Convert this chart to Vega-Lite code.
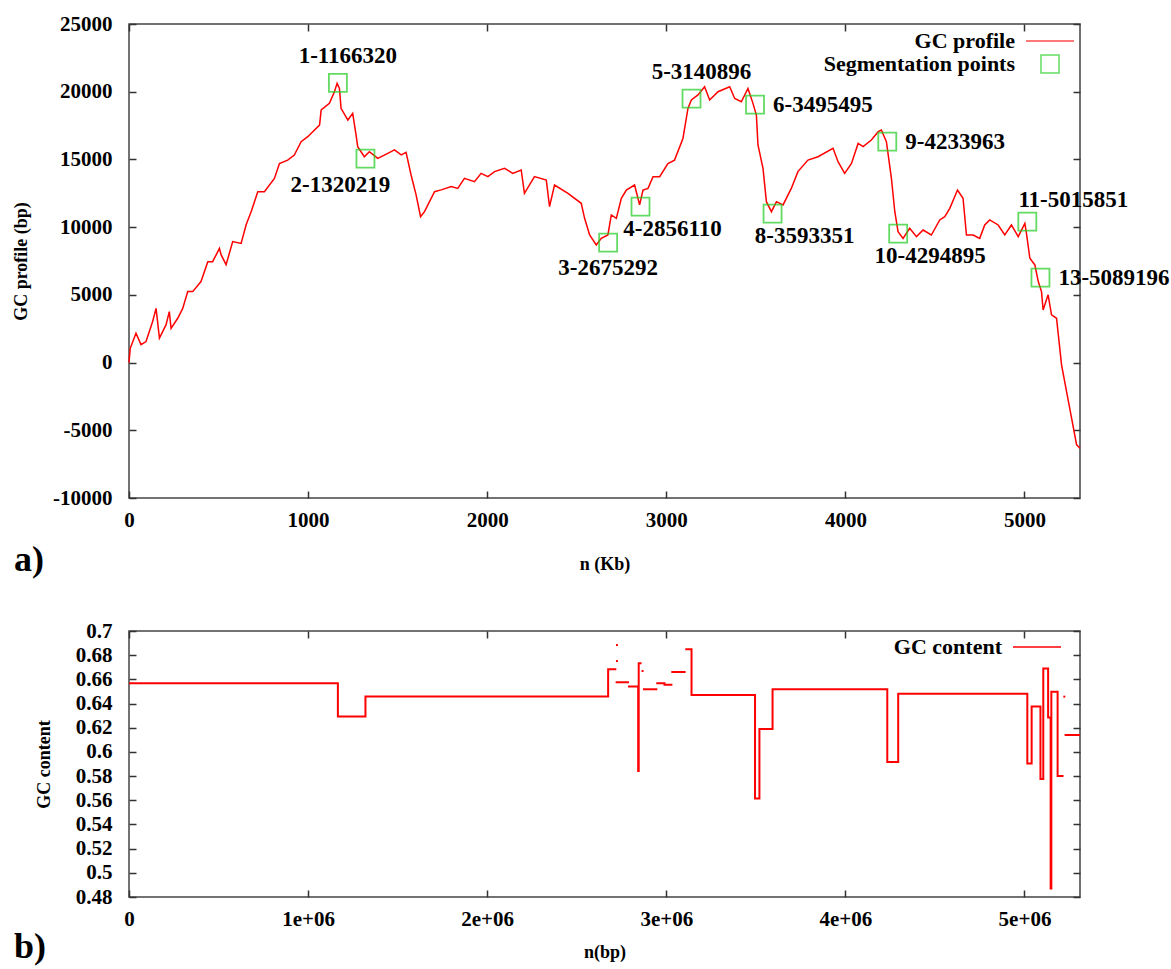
{
  "$schema": "https://vega.github.io/schema/vega-lite/v6.json",
  "background": "white",
  "padding": {"left": 11, "top": 12, "right": 5, "bottom": 5},
  "datasets": {
    "profile": [
      {"kb":0,"gc":0},{"kb":7,"gc":1050},{"kb":39,"gc":2160},{"kb":67,"gc":1330},{"kb":95,"gc":1550},
      {"kb":132,"gc":3030},{"kb":151,"gc":4000},{"kb":170,"gc":1800},{"kb":207,"gc":2800},{"kb":225,"gc":3760},
      {"kb":235,"gc":2530},{"kb":272,"gc":3270},{"kb":300,"gc":4000},{"kb":328,"gc":5240},{"kb":356,"gc":5240},
      {"kb":402,"gc":5980},{"kb":440,"gc":7450},{"kb":467,"gc":7450},{"kb":505,"gc":8430},{"kb":514,"gc":7970},
      {"kb":542,"gc":7230},{"kb":579,"gc":8930},{"kb":626,"gc":8800},{"kb":654,"gc":10180},{"kb":682,"gc":11140},
      {"kb":719,"gc":12620},{"kb":756,"gc":12620},{"kb":812,"gc":13600},{"kb":840,"gc":14700},{"kb":886,"gc":14950},
      {"kb":923,"gc":15320},{"kb":961,"gc":16310},{"kb":998,"gc":16680},{"kb":1026,"gc":17050},{"kb":1064,"gc":17540},
      {"kb":1073,"gc":18650},{"kb":1119,"gc":19140},{"kb":1147,"gc":20000},{"kb":1162,"gc":20620},{"kb":1175,"gc":20240},
      {"kb":1184,"gc":18770},{"kb":1222,"gc":17910},{"kb":1249,"gc":18400},{"kb":1268,"gc":16800},{"kb":1277,"gc":15940},
      {"kb":1314,"gc":15200},{"kb":1342,"gc":15570},{"kb":1389,"gc":15080},{"kb":1445,"gc":15450},{"kb":1482,"gc":15700},
      {"kb":1520,"gc":15330},{"kb":1547,"gc":15520},{"kb":1575,"gc":13850},{"kb":1603,"gc":12380},{"kb":1628,"gc":10770},
      {"kb":1650,"gc":11140},{"kb":1706,"gc":12620},{"kb":1743,"gc":12750},{"kb":1799,"gc":12990},{"kb":1836,"gc":12860},
      {"kb":1873,"gc":13600},{"kb":1929,"gc":13360},{"kb":1966,"gc":13970},{"kb":2004,"gc":13730},{"kb":2041,"gc":14100},
      {"kb":2097,"gc":14340},{"kb":2143,"gc":13970},{"kb":2190,"gc":14220},{"kb":2208,"gc":12500},{"kb":2264,"gc":13730},
      {"kb":2330,"gc":13480},{"kb":2348,"gc":11510},{"kb":2376,"gc":13110},{"kb":2451,"gc":12500},{"kb":2525,"gc":11760},
      {"kb":2544,"gc":10650},{"kb":2572,"gc":9420},{"kb":2609,"gc":8690},{"kb":2637,"gc":9170},{"kb":2674,"gc":9420},
      {"kb":2693,"gc":10900},{"kb":2721,"gc":10650},{"kb":2749,"gc":12130},{"kb":2777,"gc":12740},{"kb":2823,"gc":13110},
      {"kb":2851,"gc":11640},{"kb":2870,"gc":12740},{"kb":2898,"gc":12860},{"kb":2926,"gc":13730},{"kb":2963,"gc":13730},
      {"kb":3009,"gc":14700},{"kb":3046,"gc":14950},{"kb":3093,"gc":16550},{"kb":3121,"gc":18770},{"kb":3140,"gc":19390},
      {"kb":3177,"gc":19760},{"kb":3214,"gc":20370},{"kb":3242,"gc":19390},{"kb":3289,"gc":20000},{"kb":3354,"gc":20370},
      {"kb":3382,"gc":19500},{"kb":3419,"gc":19260},{"kb":3456,"gc":20240},{"kb":3484,"gc":19140},{"kb":3503,"gc":18280},
      {"kb":3512,"gc":16070},{"kb":3540,"gc":14340},{"kb":3559,"gc":11880},{"kb":3587,"gc":11140},{"kb":3615,"gc":11880},
      {"kb":3652,"gc":11640},{"kb":3698,"gc":12860},{"kb":3735,"gc":14100},{"kb":3791,"gc":14950},{"kb":3847,"gc":15200},
      {"kb":3931,"gc":15820},{"kb":3959,"gc":14830},{"kb":3996,"gc":13970},{"kb":4034,"gc":14700},{"kb":4071,"gc":16180},
      {"kb":4099,"gc":15940},{"kb":4145,"gc":16430},{"kb":4183,"gc":17050},{"kb":4201,"gc":17170},{"kb":4229,"gc":16310},
      {"kb":4257,"gc":13600},{"kb":4276,"gc":11140},{"kb":4294,"gc":9670},{"kb":4322,"gc":9170},{"kb":4359,"gc":9910},
      {"kb":4397,"gc":9300},{"kb":4434,"gc":9790},{"kb":4480,"gc":9420},{"kb":4527,"gc":10530},{"kb":4555,"gc":10770},
      {"kb":4583,"gc":11390},{"kb":4626,"gc":12740},{"kb":4657,"gc":12130},{"kb":4676,"gc":9420},{"kb":4713,"gc":9420},
      {"kb":4750,"gc":9170},{"kb":4778,"gc":10160},{"kb":4806,"gc":10530},{"kb":4853,"gc":10160},{"kb":4890,"gc":9420},
      {"kb":4927,"gc":10160},{"kb":4965,"gc":9300},{"kb":5002,"gc":10280},{"kb":5011,"gc":9540},{"kb":5030,"gc":7700},
      {"kb":5058,"gc":7210},{"kb":5077,"gc":5980},{"kb":5095,"gc":5240},{"kb":5104,"gc":3890},{"kb":5132,"gc":5000},
      {"kb":5151,"gc":3520},{"kb":5179,"gc":3270},{"kb":5207,"gc":-170},{"kb":5235,"gc":-2140},{"kb":5263,"gc":-4110},
      {"kb":5291,"gc":-6070},{"kb":5310,"gc":-6320}
    ],
    "seg": [
      {"kb":1166.32,"gc":20660,"label":"1-1166320","place":"above"},
      {"kb":1320.219,"gc":15055,"label":"2-1320219","place":"belowleft"},
      {"kb":2675.292,"gc":8856,"label":"3-2675292","place":"below"},
      {"kb":2856.11,"gc":11513,"label":"4-2856110","place":"belowright"},
      {"kb":3140.896,"gc":19483,"label":"5-3140896","place":"above"},
      {"kb":3495.495,"gc":19040,"label":"6-3495495","place":"right"},
      {"kb":3593.351,"gc":10996,"label":"8-3593351","place":"belowright"},
      {"kb":4233.963,"gc":16310,"label":"9-4233963","place":"right"},
      {"kb":4294.895,"gc":9520,"label":"10-4294895","place":"belowright"},
      {"kb":5015.851,"gc":10406,"label":"11-5015851","place":"aboveright"},
      {"kb":5089.196,"gc":6273,"label":"13-5089196","place":"right"}
    ],
    "gccontent": [
      {"piece":"A","bp":0,"gc":0.6567},{"piece":"A","bp":1166320,"gc":0.6293},{"piece":"A","bp":1320219,"gc":0.6458},
      {"piece":"A","bp":2675292,"gc":0.6683},{"piece":"A","bp":2721000,"gc":0.6683},
      {"piece":"d1","bp":2719000,"gc":0.6884},{"piece":"d1","bp":2730000,"gc":0.6884},
      {"piece":"d2","bp":2719000,"gc":0.6752},{"piece":"d2","bp":2730000,"gc":0.6752},
      {"piece":"B","bp":2717000,"gc":0.6576},{"piece":"B","bp":2792000,"gc":0.6576},
      {"piece":"C","bp":2786000,"gc":0.654},{"piece":"C","bp":2843000,"gc":0.5842},{"piece":"C","bp":2846000,"gc":0.6733},{"piece":"C","bp":2862000,"gc":0.6733},
      {"piece":"d3","bp":2862000,"gc":0.6669},{"piece":"d3","bp":2873000,"gc":0.6669},
      {"piece":"D","bp":2870000,"gc":0.6518},{"piece":"D","bp":2950000,"gc":0.6518},
      {"piece":"E","bp":2944000,"gc":0.6567},{"piece":"E","bp":2990000,"gc":0.6555},{"piece":"E","bp":3034000,"gc":0.6555},
      {"piece":"F","bp":3028000,"gc":0.6661},{"piece":"F","bp":3108000,"gc":0.6661},
      {"piece":"G","bp":3106000,"gc":0.6849},{"piece":"G","bp":3140896,"gc":0.647},{"piece":"G","bp":3495495,"gc":0.5614},
      {"piece":"G","bp":3520000,"gc":0.6189},{"piece":"G","bp":3593351,"gc":0.6518},{"piece":"G","bp":4233963,"gc":0.5916},
      {"piece":"G","bp":4294895,"gc":0.648},{"piece":"G","bp":5015851,"gc":0.5905},{"piece":"G","bp":5040000,"gc":0.6375},
      {"piece":"G","bp":5089196,"gc":0.5775},{"piece":"G","bp":5105000,"gc":0.669},{"piece":"G","bp":5132000,"gc":0.6285},
      {"piece":"G","bp":5146000,"gc":0.487},{"piece":"G","bp":5150000,"gc":0.6497},{"piece":"G","bp":5185000,"gc":0.58},
      {"piece":"G","bp":5218000,"gc":0.58},
      {"piece":"d4","bp":5217000,"gc":0.6457},{"piece":"d4","bp":5228000,"gc":0.6457},
      {"piece":"H","bp":5224000,"gc":0.614},{"piece":"H","bp":5310000,"gc":0.614}
    ]
  },
  "vconcat": [
    {
      "width": 951,
      "height": 474,
      "title": {"text": "a)", "orient": "bottom", "anchor": "start", "frame": "group", "dx": -115, "dy": -34, "fontSize": 36, "font": "Liberation Serif", "fontWeight": "bold", "color": "#000"},
      "layer": [
        {
          "data": {"name": "profile"},
          "mark": {"type": "line", "strokeWidth": 1.5},
          "encoding": {
            "x": {"field": "kb", "type": "quantitative", "scale": {"domain": [0, 5310], "nice": false, "zero": false},
                  "axis": {"orient": "bottom", "values": [0,1000,2000,3000,4000,5000], "labelExpr": "'' + datum.value", "title": "n (Kb)", "labelPadding": 18, "titlePadding": 25}},
            "y": {"field": "gc", "type": "quantitative", "scale": {"domain": [-10000, 25000], "nice": false, "zero": false},
                  "axis": {"orient": "left", "values": [-10000,-5000,0,5000,10000,15000,20000,25000], "labelExpr": "'' + datum.value", "title": "GC profile (bp)", "labelPadding": 24, "titlePadding": 22}},
            "color": {"datum": "GC profile", "type": "nominal",
                      "scale": {"domain": ["GC profile", "Segmentation points"], "range": ["#ff0000", "#22cc22"]},
                      "legend": {"title": null, "legendX": 896, "legendY": -8}}
          }
        },
        {
          "data": {"name": "seg"},
          "mark": {"type": "point", "filled": false, "strokeWidth": 1.8},
          "encoding": {
            "x": {"field": "kb", "type": "quantitative", "axis": {"orient": "top", "values": [0,1000,2000,3000,4000,5000], "labels": false, "title": null}},
            "y": {"field": "gc", "type": "quantitative", "axis": {"orient": "right", "values": [-10000,-5000,0,5000,10000,15000,20000,25000], "labels": false, "title": null}},
            "color": {"datum": "Segmentation points", "type": "nominal",
                      "scale": {"domain": ["GC profile", "Segmentation points"], "range": ["#ff0000", "#22cc22"]},
                      "legend": {"title": null, "legendX": 896, "legendY": -8}},
            "shape": {"datum": "Segmentation points", "type": "nominal",
                      "scale": {"domain": ["GC profile", "Segmentation points"], "range": ["stroke", "square"]},
                      "legend": {"title": null, "legendX": 896, "legendY": -8}},
            "size": {"datum": "Segmentation points", "type": "ordinal",
                     "scale": {"domain": ["GC profile", "Segmentation points"], "range": [2304, 324]},
                     "legend": {"title": null, "legendX": 896, "legendY": -8}}
          }
        },
        {
          "data": {"name": "seg"},
          "transform": [{"filter": "datum.place == 'above'"}],
          "mark": {"type": "text", "font": "Liberation Serif", "fontWeight": "bold", "fontSize": 23, "dx": 10, "dy": -27, "align": "center", "baseline": "middle", "color": "#000"},
          "encoding": {"x": {"field": "kb", "type": "quantitative", "axis": null}, "y": {"field": "gc", "type": "quantitative", "axis": null}, "text": {"field": "label"}}
        },
        {
          "data": {"name": "seg"},
          "transform": [{"filter": "datum.place == 'below'"}],
          "mark": {"type": "text", "font": "Liberation Serif", "fontWeight": "bold", "fontSize": 23, "dx": 0, "dy": 25, "align": "center", "baseline": "middle", "color": "#000"},
          "encoding": {"x": {"field": "kb", "type": "quantitative", "axis": null}, "y": {"field": "gc", "type": "quantitative", "axis": null}, "text": {"field": "label"}}
        },
        {
          "data": {"name": "seg"},
          "transform": [{"filter": "datum.place == 'belowleft'"}],
          "mark": {"type": "text", "font": "Liberation Serif", "fontWeight": "bold", "fontSize": 23, "dx": -25, "dy": 26, "align": "center", "baseline": "middle", "color": "#000"},
          "encoding": {"x": {"field": "kb", "type": "quantitative", "axis": null}, "y": {"field": "gc", "type": "quantitative", "axis": null}, "text": {"field": "label"}}
        },
        {
          "data": {"name": "seg"},
          "transform": [{"filter": "datum.place == 'belowright'"}],
          "mark": {"type": "text", "font": "Liberation Serif", "fontWeight": "bold", "fontSize": 23, "dx": 32, "dy": 22, "align": "center", "baseline": "middle", "color": "#000"},
          "encoding": {"x": {"field": "kb", "type": "quantitative", "axis": null}, "y": {"field": "gc", "type": "quantitative", "axis": null}, "text": {"field": "label"}}
        },
        {
          "data": {"name": "seg"},
          "transform": [{"filter": "datum.place == 'right'"}],
          "mark": {"type": "text", "font": "Liberation Serif", "fontWeight": "bold", "fontSize": 23, "dx": 18, "dy": 0, "align": "left", "baseline": "middle", "color": "#000"},
          "encoding": {"x": {"field": "kb", "type": "quantitative", "axis": null}, "y": {"field": "gc", "type": "quantitative", "axis": null}, "text": {"field": "label"}}
        },
        {
          "data": {"name": "seg"},
          "transform": [{"filter": "datum.place == 'aboveright'"}],
          "mark": {"type": "text", "font": "Liberation Serif", "fontWeight": "bold", "fontSize": 23, "dx": 46, "dy": -22, "align": "center", "baseline": "middle", "color": "#000"},
          "encoding": {"x": {"field": "kb", "type": "quantitative", "axis": null}, "y": {"field": "gc", "type": "quantitative", "axis": null}, "text": {"field": "label"}}
        }
      ],
      "resolve": {"axis": {"x": "independent", "y": "independent"}}
    },
    {
      "width": 951,
      "height": 266,
      "title": {"text": "b)", "orient": "bottom", "anchor": "start", "frame": "group", "dx": -115, "dy": -35, "fontSize": 36, "font": "Liberation Serif", "fontWeight": "bold", "color": "#000"},
      "data": {"name": "gccontent"},
      "layer": [
        {
          "transform": [{"filter": "datum.piece != 'H'"}],
          "mark": {"type": "line", "interpolate": "step-after", "strokeWidth": 2},
          "encoding": {
            "x": {"field": "bp", "type": "quantitative", "scale": {"domain": [0, 5310000], "nice": false, "zero": false},
                  "axis": {"orient": "bottom", "values": [0,1000000,2000000,3000000,4000000,5000000], "labelExpr": "datum.value == 0 ? '0' : (datum.value / 1000000) + 'e+06'", "title": "n(bp)", "labelPadding": 18, "titlePadding": 14}},
            "y": {"field": "gc", "type": "quantitative", "scale": {"domain": [0.48, 0.7], "nice": false, "zero": false},
                  "axis": {"orient": "left", "values": [0.48,0.5,0.52,0.54,0.56,0.58,0.6,0.62,0.64,0.66,0.68,0.7], "format": ".2~f", "title": "GC content", "labelPadding": 24, "titlePadding": 22}},
            "detail": {"field": "piece", "type": "nominal"},
            "color": {"datum": "GC content", "type": "nominal", "scale": {"domain": ["GC content"], "range": ["#ff0000"]},
                      "legend": {"title": null, "legendX": 883, "legendY": -9, "symbolType": "stroke", "symbolSize": 2304}}
          }
        },
        {
          "transform": [{"filter": "datum.piece == 'H'"}],
          "mark": {"type": "line", "interpolate": "step-after", "strokeWidth": 2},
          "encoding": {
            "x": {"field": "bp", "type": "quantitative", "axis": {"orient": "top", "values": [0,1000000,2000000,3000000,4000000,5000000], "labels": false, "title": null}},
            "y": {"field": "gc", "type": "quantitative", "axis": {"orient": "right", "values": [0.48,0.5,0.52,0.54,0.56,0.58,0.6,0.62,0.64,0.66,0.68,0.7], "labels": false, "title": null}},
            "detail": {"field": "piece", "type": "nominal"},
            "color": {"datum": "GC content", "type": "nominal", "scale": {"domain": ["GC content"], "range": ["#ff0000"]},
                      "legend": {"title": null, "legendX": 883, "legendY": -9, "symbolType": "stroke", "symbolSize": 2304}}
          }
        }
      ],
      "resolve": {"axis": {"x": "independent", "y": "independent"}}
    }
  ],
  "spacing": 40,
  "resolve": {
    "scale": {"color": "independent", "shape": "independent", "size": "independent", "x": "independent", "y": "independent"},
    "legend": {"color": "independent", "shape": "independent", "size": "independent"}
  },
  "config": {
    "font": "Liberation Serif",
    "view": {"stroke": "#444444", "strokeWidth": 1.5},
    "axis": {
      "labelFont": "Liberation Serif", "labelFontWeight": "bold", "labelFontSize": 21, "labelColor": "#000",
      "titleFont": "Liberation Serif", "titleFontWeight": "bold", "titleFontSize": 18, "titleColor": "#000",
      "domain": false, "grid": false, "tickSize": -7, "tickColor": "#333", "tickWidth": 1.5,
      "labelFlush": false, "labelOverlap": false
    },
    "legend": {
      "orient": "none", "labelFont": "Liberation Serif", "labelFontWeight": "bold", "labelFontSize": 22, "labelColor": "#000",
      "labelAlign": "right", "labelOffset": -60, "labelLimit": 400, "rowPadding": 0, "padding": 0, "symbolStrokeWidth": 1.5
    }
  }
}
